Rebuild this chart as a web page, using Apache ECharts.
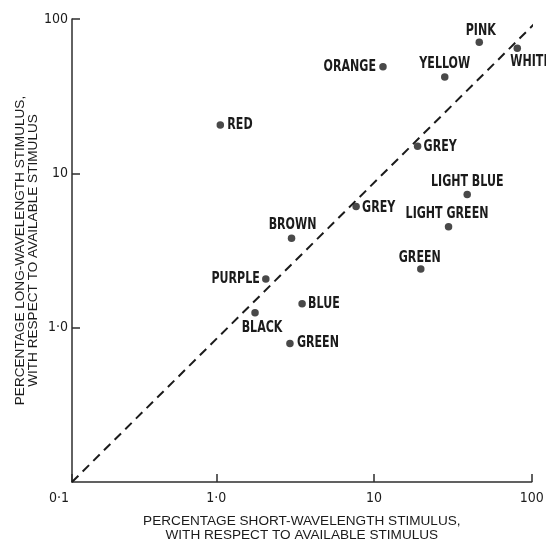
<!DOCTYPE html>
<html>
<head>
<meta charset="utf-8">
<script src="https://cdn.jsdelivr.net/npm/echarts@6/dist/echarts.min.js"></script>
<style>
  html, body { margin: 0; padding: 0; background: #ffffff; }
  #chart { width: 546px; height: 544px; }
</style>
</head>
<body>
<div id="chart"></div>
<script>
// Colour samples: short- vs long-wavelength stimulus (per cent of available stimulus)
const colourNames = ['PINK', 'WHITE', 'ORANGE', 'YELLOW', 'GREY', 'RED', 'LIGHT BLUE', 'GREY',
                     'LIGHT GREEN', 'BROWN', 'GREEN', 'PURPLE', 'BLUE', 'BLACK', 'GREEN'];
const shortWave = [46.5, 81, 11.4, 28.1, 18.9, 1.06, 39, 7.7, 29.7, 3.0, 19.8, 2.06, 3.5, 1.76, 2.93];
const longWave  = [70.6, 64.6, 49.1, 42.1, 15.0, 20.6, 7.3, 6.1, 4.5, 3.8, 2.4, 2.07, 1.43, 1.25, 0.79];

// Equal-proportion reference line (dashed)
const equalLineX = [0.1216, 105];
const equalLineY = [0.1, 94];

// Decade tick labels
const tickValues = [0.1, 1, 10, 100];
const tickLabels = ['0·1', '1·0', '10', '100'];

const INK = '#1b1b1b';
const AXIS_INK = '#2e2e2e';
const LETTER_FONT = "'DejaVu Sans Condensed', 'Liberation Sans Narrow', sans-serif";
const NAME_FONT = "'Liberation Sans', 'DejaVu Sans', sans-serif";

// Name placement around each dot: text anchor side and offset from the dot centre
const labelPlacement = [
  { align: 'center', dx: 1.5, dy: -11 },
  { align: 'left',   dx: -7,  dy: 14 },
  { align: 'right',  dx: -7,  dy: 0 },
  { align: 'center', dx: 0,   dy: -13 },
  { align: 'left',   dx: 6,   dy: 1 },
  { align: 'left',   dx: 7,   dy: 0 },
  { align: 'center', dx: 0,   dy: -12 },
  { align: 'left',   dx: 6,   dy: 2 },
  { align: 'center', dx: -1.5, dy: -13 },
  { align: 'center', dx: 1,   dy: -13.5 },
  { align: 'center', dx: -1,  dy: -11 },
  { align: 'right',  dx: -6,  dy: 0 },
  { align: 'left',   dx: 6,   dy: 0.5 },
  { align: 'center', dx: 7,   dy: 15 },
  { align: 'left',   dx: 7,   dy: 0 }
];

function decadeLabel(v) {
  let best = 0;
  for (let i = 1; i < tickValues.length; i++) {
    if (Math.abs(Math.log10(v) - Math.log10(tickValues[i])) <
        Math.abs(Math.log10(v) - Math.log10(tickValues[best]))) best = i;
  }
  return tickLabels[best];
}

const pointData = colourNames.map((name, i) => ({ name: name, value: [shortWave[i], longWave[i]] }));

const chart = echarts.init(document.getElementById('chart'), null, { renderer: 'canvas' });

const axisCommon = {
  type: 'log',
  logBase: 10,
  splitLine: { show: false },
  minorTick: { show: false },
  axisLine: { show: true, lineStyle: { color: AXIS_INK, width: 1.5 } },
  axisTick: { show: true, inside: true, length: 8, lineStyle: { color: AXIS_INK, width: 1.5 } }
};

chart.setOption({
  backgroundColor: '#ffffff',
  animation: false,
  grid: {
    left: 72, right: 14.3, top: 19, bottom: 62,
    containLabel: false,
    outerBoundsMode: 'none'
  },
  xAxis: Object.assign({}, axisCommon, {
    min: equalLineX[0],
    max: 100,
    axisLabel: {
      color: INK,
      fontFamily: LETTER_FONT,
      fontSize: 14,
      margin: 9,
      showMinLabel: true,
      showMaxLabel: true,
      formatter: function (v) {
        const t = decadeLabel(v);
        return t === '0·1' ? '{lo|0·1}' : t;
      },
      rich: { lo: { padding: [0, 26, 0, 0], fontSize: 14, fontFamily: LETTER_FONT, color: INK } }
    },
    name: 'PERCENTAGE SHORT-WAVELENGTH STIMULUS,\nWITH RESPECT TO AVAILABLE STIMULUS',
    nameLocation: 'middle',
    nameGap: 32,
    nameTextStyle: { color: INK, fontFamily: NAME_FONT, fontSize: 13.6, lineHeight: 14 }
  }),
  yAxis: Object.assign({}, axisCommon, {
    min: 0.1,
    max: 100,
    axisLabel: {
      color: INK,
      fontFamily: LETTER_FONT,
      fontSize: 14,
      margin: 4,
      showMinLabel: false,
      formatter: function (v) { return decadeLabel(v); }
    },
    name: 'PERCENTAGE LONG-WAVELENGTH STIMULUS,\nWITH RESPECT TO AVAILABLE STIMULUS',
    nameLocation: 'middle',
    nameRotate: 90,
    nameGap: 32,
    nameMoveOverlap: false,
    nameTextStyle: { color: INK, fontFamily: NAME_FONT, fontSize: 13.6, lineHeight: 13 }
  }),
  series: [
    {
      type: 'line',
      data: equalLineX.map((x, i) => [x, equalLineY[i]]),
      showSymbol: false,
      symbol: 'none',
      clip: false,
      silent: true,
      lineStyle: { color: INK, width: 2, type: [9, 6] },
      z: 1
    },
    {
      type: 'scatter',
      data: pointData,
      symbol: 'circle',
      symbolSize: 7.5,
      itemStyle: { color: INK },
      clip: false,
      z: 2
    },
    {
      // condensed hand-lettered sample names beside each dot
      type: 'custom',
      data: pointData,
      clip: false,
      silent: true,
      z: 3,
      renderItem: function (params, api) {
        const p = api.coord([api.value(0), api.value(1)]);
        const place = labelPlacement[params.dataIndex];
        return {
          type: 'text',
          x: p[0] + place.dx,
          y: p[1] + place.dy,
          scaleX: 0.82,
          style: {
            text: colourNames[params.dataIndex],
            fill: INK,
            font: 'bold 15px ' + LETTER_FONT,
            align: place.align,
            verticalAlign: 'middle'
          }
        };
      }
    }
  ]
});
</script>
</body>
</html>
